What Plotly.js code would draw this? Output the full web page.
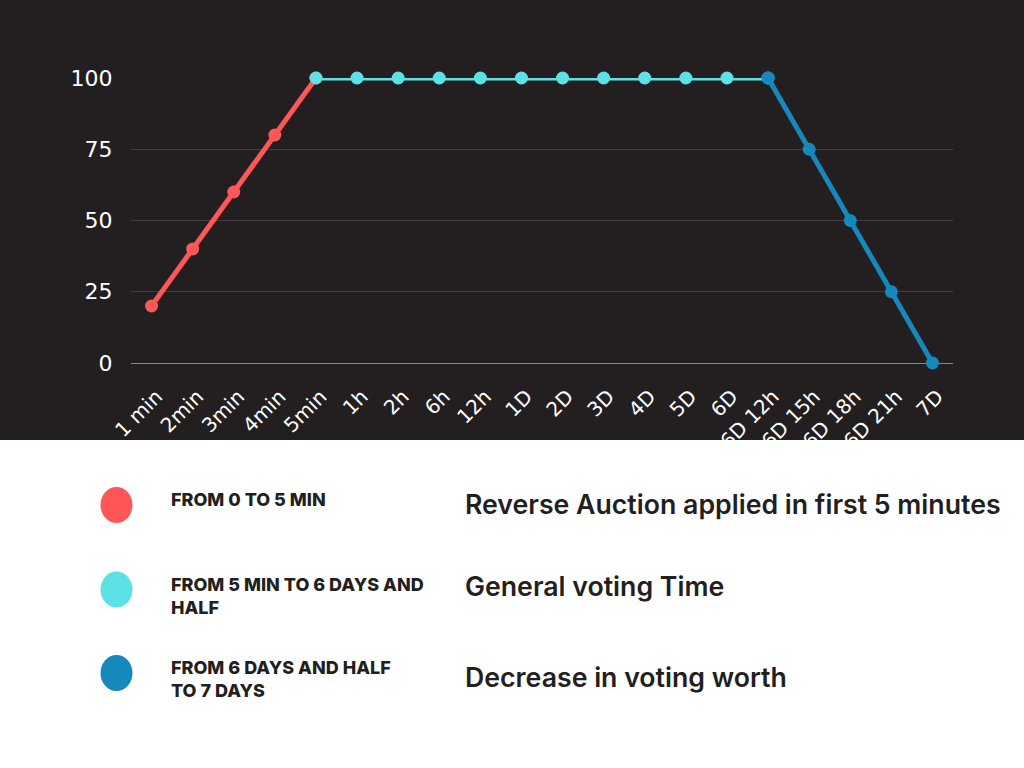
<!DOCTYPE html>
<html>
<head>
<meta charset="utf-8">
<script src="https://cdn.plot.ly/plotly-3.0.1.min.js"></script>
<style>
html,body{margin:0;padding:0;background:#ffffff;}
#chart{width:1024px;height:768px;}
</style>
</head>
<body>
<div id="chart"></div>
<script>
var categories = ["1 min","2min","3min","4min","5min","1h","2h","6h","12h","1D","2D","3D","4D","5D","6D","6D 12h","6D 15h","6D 18h","6D 21h","7D"];
var redX = ["1 min","2min","3min","4min","5min"];
var redY = [20,40,60,80,100];
var cyanX = ["5min","1h","2h","6h","12h","1D","2D","3D","4D","5D","6D","6D 12h"];
var cyanY = [100,100,100,100,100,100,100,100,100,100,100,100];
var blueX = ["6D 12h","6D 15h","6D 18h","6D 21h","7D"];
var blueY = [100,75,50,25,0];
var yTicks = [0,25,50,75,100];

var legendColors = ["#ff5757","#5ce1e6","#1788bb"];
var legendLabels = ["FROM 0 TO 5 MIN","FROM 5 MIN TO 6 DAYS AND<br>HALF","FROM 6 DAYS AND HALF<br>TO 7 DAYS"];
var legendNotes = ["Reverse Auction applied in first 5 minutes","General voting Time","Decrease in voting worth"];

var BG = "#231f20";
var W = 1024, H = 768, L = 131, R = 71, T = 78, B = 405;
var PW = W - L - R, PH = H - T - B;
function px(x){ return (x - L) / PW; }
function py(y){ return (H - B - y) / PH; }

function trace(x, y, color){
  return {x:x, y:y, type:"scatter", mode:"lines+markers",
    line:{color:color, width:5}, marker:{color:color, size:13},
    cliponaxis:false, hoverinfo:"skip", showlegend:false};
}
var data = [trace(redX, redY, legendColors[0]), trace(cyanX, cyanY, legendColors[1]), trace(blueX, blueY, legendColors[2])];

var shapes = [{type:"rect", xref:"paper", yref:"paper", x0:px(-5), x1:px(W+5), y0:py(440), y1:py(-5),
  fillcolor:BG, line:{width:0}, layer:"below"}];
var annotations = [];
var circleY = [505, 589.5, 673];
var labelY = [499, 595.5, 679];
var noteY = [504, 586, 677];
for (var i = 0; i < 3; i++) {
  shapes.push({type:"circle", xref:"paper", yref:"paper", xsizemode:"pixel", ysizemode:"pixel",
    xanchor:px(116.5), yanchor:py(circleY[i]), x0:-16, x1:16, y0:-18, y1:18,
    fillcolor:legendColors[i], line:{width:0}});
  annotations.push({xref:"paper", yref:"paper", x:px(169), y:py(labelY[i]), xanchor:"left", yanchor:"middle",
    align:"left", showarrow:false, text:legendLabels[i],
    font:{family:"Inter, 'Open Sans', sans-serif", size:18, color:BG, weight:800}});
  annotations.push({xref:"paper", yref:"paper", x:px(463), y:py(noteY[i]), xanchor:"left", yanchor:"middle",
    align:"left", showarrow:false, text:legendNotes[i],
    font:{family:"Inter, 'Open Sans', sans-serif", size:26.7, color:BG, weight:600}});
}

var tickFamily = "'DejaVu Sans', sans-serif";
var layout = {
  width:W, height:H,
  margin:{l:L, r:R, t:T, b:B, pad:0},
  paper_bgcolor:"#ffffff", plot_bgcolor:BG,
  showlegend:false,
  font:{family:tickFamily, color:"#ffffff"},
  xaxis:{type:"category", categoryorder:"array", categoryarray:categories,
    range:[-0.5, categories.length - 0.5], showgrid:false, zeroline:false, showline:false,
    tickangle:-45, ticks:"outside", ticklen:13, tickcolor:"rgba(0,0,0,0)", ticklabelshift:5,
    tickfont:{size:20, color:"#ffffff", family:tickFamily}},
  yaxis:{range:[0,100], tickvals:yTicks, showgrid:true, gridcolor:"#433f40", gridwidth:1,
    zeroline:true, zerolinecolor:"#8a8687", zerolinewidth:1, showline:false,
    ticks:"outside", ticklen:13, tickcolor:"rgba(0,0,0,0)",
    tickfont:{size:22, color:"#ffffff", family:tickFamily}},
  shapes:shapes,
  annotations:annotations
};
Plotly.newPlot("chart", data, layout, {staticPlot:true, displayModeBar:false});
</script>
</body>
</html>
